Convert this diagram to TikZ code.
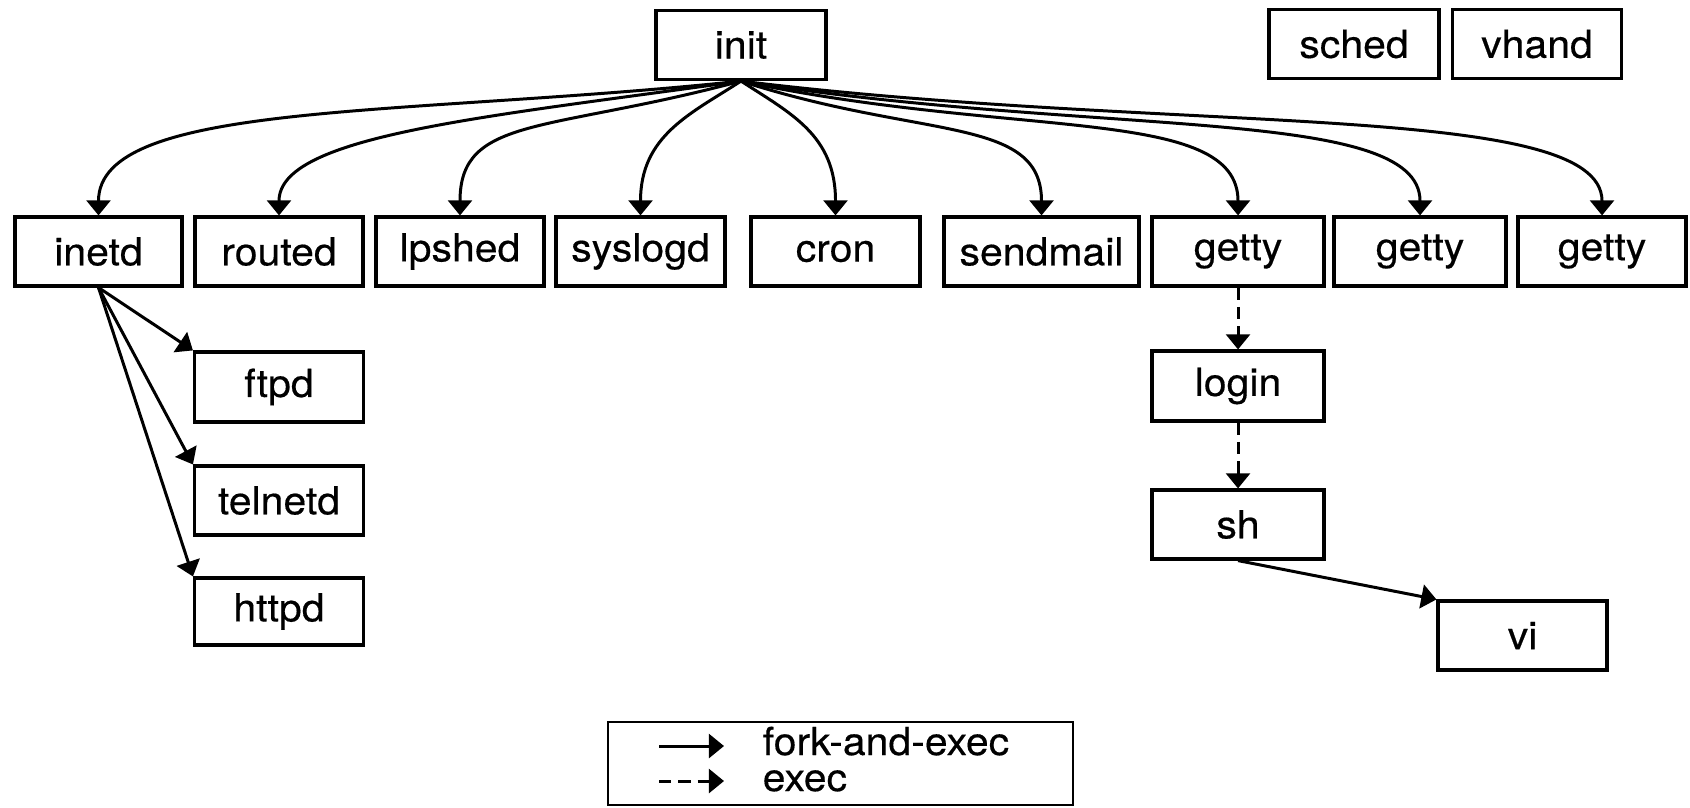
\documentclass[tikz,border=0pt]{standalone}
\usepackage{fontspec}
\setmainfont{TeX Gyre Heros}[FakeStretch=1.06,FakeBold=0.4]
\usetikzlibrary{arrows.meta}
\begin{document}
\begin{tikzpicture}
% Styles
\tikzstyle{boite}=[draw,line width=0.9pt,minimum width=1.69cm,minimum height=0.69cm,inner sep=0pt,font=\fontsize{11}{13}\selectfont]
\tikzstyle{fleche}=[-{Triangle[length=4.3pt,width=6.8pt]},line width=0.85pt]
\tikzstyle{tirets}=[fleche,dash pattern=on 3.5pt off 2pt]
\tikzstyle{texte}=[anchor=base west,inner sep=0pt,font=\fontsize{11}{13}\selectfont]
% Cadre de l'image
\useasboundingbox (0,0) rectangle (16.90,-8.07);
% Ligne du haut
\node[boite,minimum width=1.70cm] (init) at (7.41,-0.45) {init};
\node[boite,minimum width=1.70cm] (sched) at (13.54,-0.44) {sched};
\node[boite] (vhand) at (15.37,-0.44) {vhand};
% Ligne des demons
\def\HtL{-2.515}
\foreach \nom/\x/\lrg/\txt in {inetd/0.985/1.67/inetd, routed/2.79/1.68/routed, lpshed/4.60/1.68/lpshed, syslogd/6.405/1.69/syslogd, cron/8.355/1.69/cron, sendmail/10.415/1.95/sendmail, gettyA/12.38/1.72/getty, gettyB/14.20/1.72/getty, gettyC/16.02/1.68/getty}
  \node[boite,minimum width=\lrg cm] (\nom) at (\x,\HtL) {\txt};
% Fils de inetd
\node[boite,minimum height=0.70cm] (ftpd) at (2.79,-3.87) {ftpd};
\node[boite] (telnetd) at (2.79,-5.005) {telnetd};
\node[boite,minimum height=0.67cm] (httpd) at (2.79,-6.115) {httpd};
% Chaine de getty
\node[boite,minimum width=1.72cm,minimum height=0.70cm] (login) at (12.38,-3.86) {login};
\node[boite,minimum width=1.72cm] (sh) at (12.38,-5.245) {sh};
\node[boite] (vi) at (15.225,-6.355) {vi};
% Fleches de init
\foreach \cible/\sortie/\dsort/\dent in {inetd/186/3.4/1.15, routed/188/2.6/0.8, lpshed/195/2.0/1.0, syslogd/213/0.6/0.8, cron/-33/0.6/0.8, sendmail/-18/1.9/1.0, gettyA/-12/2.8/1.1, gettyB/-9/3.6/1.1, gettyC/-7/4.4/1.15}
  \draw[fleche] (init.south) to[out=\sortie,in=90,out distance=\dsort cm,in distance=\dent cm] (\cible.north);
\draw[fleche] (inetd.south) -- (ftpd.north west);
\draw[fleche] (inetd.south) -- (telnetd.north west);
\draw[fleche] (inetd.south) -- (httpd.north west);
\draw[tirets] (gettyA.south) -- (login.north);
\draw[tirets] (login.south) -- (sh.north);
\draw[fleche] (sh.south) -- (vi.north west);
% Legende
\node[draw,line width=0.6pt,minimum width=4.65cm,minimum height=0.83cm] (legende) at (8.405,-7.635) {};
\coordinate (pleinA) at (6.59,-7.46);
\coordinate (pleinB) at (7.24,-7.46);
\coordinate (tiretA) at (6.59,-7.81);
\coordinate (tiretB) at (7.24,-7.81);
\node[texte] (forkexec) at (7.62,-7.55) {fork-and-exec};
\node[texte] (exec) at (7.62,-7.91) {exec};
\draw[fleche] (pleinA) -- (pleinB);
\draw[tirets] (tiretA) -- (tiretB);
\end{tikzpicture}
\end{document}
